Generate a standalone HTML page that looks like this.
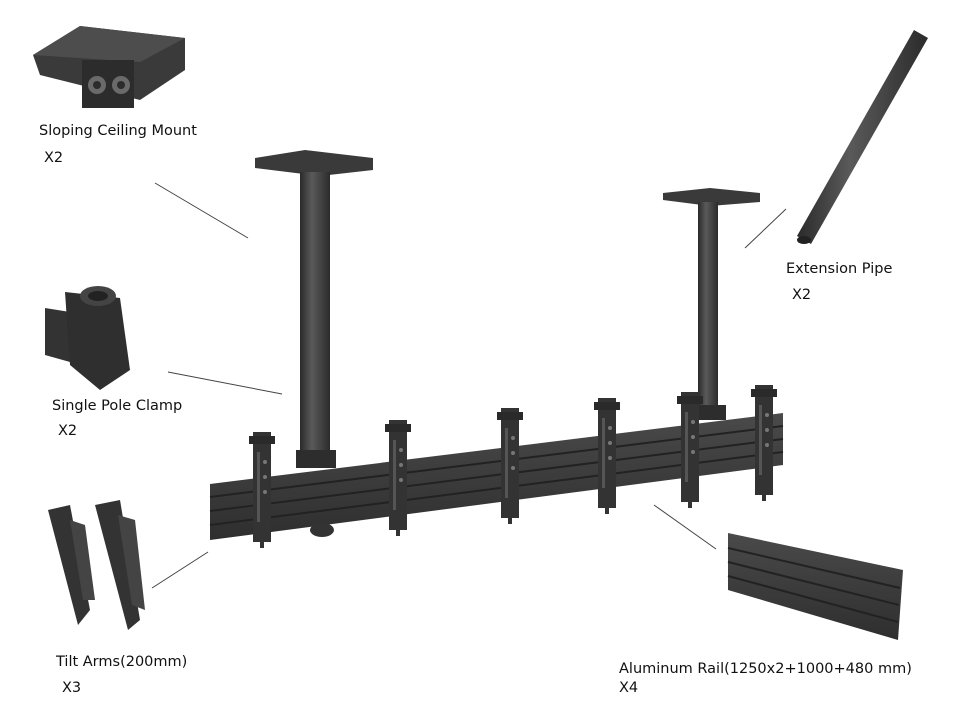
<!DOCTYPE html>
<html><head><meta charset="utf-8"><style>
html,body{margin:0;padding:0;background:#fff}
svg{display:block}
text{font-family:"DejaVu Sans","Liberation Sans",sans-serif;font-size:14.5px;fill:#111}
</style></head><body>
<svg width="960" height="720" viewBox="0 0 960 720" xmlns="http://www.w3.org/2000/svg">
<defs>
<linearGradient id="pipe" x1="0" x2="1" y1="0" y2="0">
<stop offset="0" stop-color="#2a2a2a"/><stop offset="0.4" stop-color="#5a5a5a"/><stop offset="1" stop-color="#2b2b2b"/>
</linearGradient>
<linearGradient id="rail" x1="0" x2="0" y1="0" y2="1">
<stop offset="0" stop-color="#4a4a4a"/><stop offset="1" stop-color="#2e2e2e"/>
</linearGradient>
<g id="brk">
<rect x="-9" y="0" width="18" height="110" fill="#333"/>
<rect x="-13" y="4" width="26" height="8" fill="#2a2a2a"/>
<rect x="-5" y="20" width="3" height="70" fill="#555"/>
<circle cx="3" cy="30" r="2" fill="#777"/><circle cx="3" cy="45" r="2" fill="#777"/><circle cx="3" cy="60" r="2" fill="#777"/>
<rect x="-2" y="110" width="4" height="6" fill="#333"/>
</g>
</defs>

<polygon points="33,55 80,26 185,38 185,70 140,100 40,75" fill="#3a3a3a"/>
<polygon points="33,55 80,26 185,38 140,62" fill="#4d4d4d"/>
<rect x="82" y="60" width="52" height="48" fill="#2c2c2c"/>
<circle cx="97" cy="85" r="9" fill="#6a6a6a"/><circle cx="121" cy="85" r="9" fill="#6a6a6a"/>
<circle cx="97" cy="85" r="4" fill="#2c2c2c"/><circle cx="121" cy="85" r="4" fill="#2c2c2c"/>

<polygon points="797,236 811,244 928,38 914,30" fill="url(#pipe)"/>
<ellipse cx="804" cy="240" rx="7" ry="4" fill="#222"/>

<polygon points="45,308 70,312 70,362 45,355" fill="#333"/>
<polygon points="65,292 120,298 130,370 100,390 70,365" fill="#2f2f2f"/>
<ellipse cx="98" cy="296" rx="18" ry="10" fill="#444"/>
<ellipse cx="98" cy="296" rx="10" ry="5" fill="#222"/>

<polygon points="48,510 70,505 90,610 78,625" fill="#333"/>
<polygon points="95,505 120,500 140,620 128,630" fill="#333"/>
<polygon points="70,520 85,525 95,600 83,600" fill="#444"/>
<polygon points="118,515 135,520 145,610 132,605" fill="#444"/>

<polygon points="728,533 903,570 898,640 728,590" fill="url(#rail)"/>
<line x1="728" y1="548" x2="900" y2="588" stroke="#222" stroke-width="2"/>
<line x1="728" y1="562" x2="899" y2="605" stroke="#222" stroke-width="2"/>
<line x1="728" y1="576" x2="898" y2="622" stroke="#222" stroke-width="2"/>

<polygon points="255,158 305,150 373,158 373,170 320,176 255,168" fill="#3a3a3a"/>
<rect x="300" y="172" width="30" height="290" fill="url(#pipe)"/>
<rect x="296" y="450" width="40" height="18" fill="#2d2d2d"/>
<polygon points="663,193 710,188 760,193 760,202 710,206 663,200" fill="#3a3a3a"/>
<rect x="698" y="202" width="20" height="215" fill="url(#pipe)"/>
<rect x="690" y="405" width="36" height="15" fill="#2d2d2d"/>

<polygon points="210,484 783,413 783,465 210,540" fill="url(#rail)"/>
<line x1="210" y1="497" x2="783" y2="426" stroke="#222" stroke-width="2"/>
<line x1="210" y1="511" x2="783" y2="439" stroke="#222" stroke-width="2"/>
<line x1="210" y1="525" x2="783" y2="452" stroke="#222" stroke-width="2"/>
<ellipse cx="322" cy="530" rx="12" ry="7" fill="#333"/>

<use href="#brk" x="262" y="432"/>
<use href="#brk" x="398" y="420"/>
<use href="#brk" x="510" y="408"/>
<use href="#brk" x="607" y="398"/>
<use href="#brk" x="690" y="392"/>
<use href="#brk" x="764" y="385"/>

<g stroke="#444" stroke-width="1">
<line x1="155" y1="183" x2="248" y2="238"/>
<line x1="168" y1="372" x2="282" y2="394"/>
<line x1="152" y1="588" x2="208" y2="552"/>
<line x1="745" y1="248" x2="786" y2="209"/>
<line x1="654" y1="505" x2="716" y2="549"/>
</g>

<text x="39" y="135">Sloping Ceiling Mount</text>
<text x="44" y="162">X2</text>
<text x="786" y="273">Extension Pipe</text>
<text x="792" y="299">X2</text>
<text x="52" y="410">Single Pole Clamp</text>
<text x="58" y="435">X2</text>
<text x="56" y="666">Tilt Arms(200mm)</text>
<text x="62" y="692">X3</text>
<text x="619" y="673">Aluminum Rail(1250x2+1000+480 mm)</text>
<text x="619" y="692">X4</text>
</svg>
</body></html>
